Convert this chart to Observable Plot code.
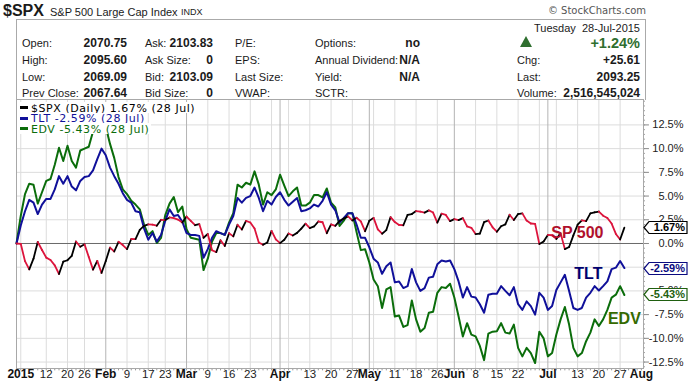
<!DOCTYPE html>
<html><head><meta charset="utf-8">
<script src="https://cdn.jsdelivr.net/npm/d3@7"></script>
<script src="https://cdn.jsdelivr.net/npm/@observablehq/plot@0.6"></script>
<style>
body{margin:0;background:#fff;}
#wrap{position:relative;width:700px;height:385px;overflow:hidden;font-family:"Liberation Sans",Arial,sans-serif;color:#1a1a1a;}
#wrap svg{position:absolute;left:0;top:0;}
.t{position:absolute;white-space:pre;line-height:1;}
.b{font-weight:bold;}
</style></head><body><div id="wrap"></div>
<script>
// ---- data: trading days from 31-Dec-2014 (index 0) to 28-Jul-2015 (index 143)
const spxClose = [2058.90,
 2058.20,2020.58,2002.61,2025.90,2062.14,2044.81,2028.26,2023.03,2011.27,1992.67,2019.42,2022.55,2032.12,2063.15,2051.82,2057.09,2029.55,2002.16,2021.25,1994.99,
 2020.85,2050.03,2041.51,2062.52,2055.47,2046.74,2068.59,2068.53,2088.48,2096.99,2100.34,2099.68,2097.45,2110.30,2109.66,2115.48,2113.86,2110.74,2104.50,
 2117.39,2107.78,2098.53,2101.04,2071.26,2079.43,2044.16,2040.24,2065.95,2053.40,2081.19,2074.28,2099.50,2089.27,2108.10,2104.42,2091.50,2061.05,2056.15,2061.02,2086.24,2067.89,
 2059.69,2066.96,2080.62,2076.33,2081.90,2091.18,2102.06,2092.43,2095.84,2106.63,2104.99,2081.18,2100.40,2097.29,2107.96,2112.93,2117.69,2108.92,2114.76,2106.85,2085.51,
 2108.29,2114.49,2089.46,2080.15,2088.00,2116.10,2105.33,2099.12,2098.48,2121.10,2122.73,2129.20,2127.83,2125.85,2130.82,2126.06,2104.20,2123.48,2120.79,2107.39,
 2111.73,2109.60,2114.07,2095.84,2092.83,2079.28,2080.15,2105.20,2108.86,2094.11,2084.43,2096.29,2100.44,2121.24,2109.99,2122.85,2124.20,2108.58,2102.31,2101.49,2057.64,2063.11,
 2077.42,2076.78,2068.76,2081.34,2046.68,2051.31,2076.62,2099.60,2108.95,2107.40,2124.29,2126.64,2128.28,2119.21,2114.15,2102.15,2079.65,2067.64,2093.25];

const tltPct = [0,
 1.9,3.4,4.6,4.3,3.1,4.1,4.7,4.7,5.7,7.1,6.3,7.1,6.0,5.6,6.6,7.0,7.1,7.7,8.9,10.0,
 9.3,8.0,7.1,6.3,5.3,4.6,4.3,3.4,3.3,1.6,0.4,1.1,0.2,0.9,2.4,3.6,2.9,3.0,2.3,
 1.1,0.9,0.9,0.8,-1.5,-0.6,0.6,1.3,1.1,0.9,2.0,2.9,4.8,4.3,4.8,5.0,5.9,4.8,3.4,4.5,4.1,4.9,
 5.4,4.6,4.0,4.4,4.8,3.4,3.5,3.7,4.1,3.9,4.5,5.4,4.1,3.5,2.2,2.7,3.2,3.2,2.0,0.6,0.6,
 -0.4,-1.6,-2.0,-3.2,-2.4,-2.0,-4.1,-4.0,-4.7,-4.5,-2.7,-4.1,-5.0,-4.7,-3.6,-3.5,-2.2,-1.8,-1.9,-1.8,
 -2.7,-4.0,-5.7,-4.6,-5.6,-5.7,-6.4,-7.3,-5.4,-5.3,-5.3,-4.5,-5.0,-5.45,-4.6,-6.4,-7.0,-6.1,-6.6,-7.5,-5.2,-5.7,
 -7.0,-6.6,-4.9,-4.1,-3.3,-5.0,-6.8,-7.0,-6.8,-5.7,-5.2,-4.5,-4.95,-4.5,-4.0,-2.7,-2.55,-1.85,-2.59];

const edvPct = [0,
 2.9,5.2,6.3,6.2,4.2,5.4,6.6,6.8,8.3,10.1,8.7,10.3,8.7,8.0,9.8,10.0,10.2,11.8,13.0,14.8,
 12.3,10.5,9.0,7.0,5.7,5.2,4.5,4.1,3.6,2.0,0.9,1.3,0.05,0.6,3.0,4.2,4.9,3.3,3.9,
 1.5,0.6,0.5,0.4,-2.8,-1.6,0.2,1.1,1.1,0.9,2.2,3.2,6.2,5.9,6.4,6.2,7.6,6.2,4.1,5.4,5.1,5.7,
 7.25,6.1,5.0,5.5,5.9,4.0,4.0,4.3,5.1,5.1,4.85,5.8,4.3,3.8,1.85,2.4,3.2,3.2,1.2,-0.7,-0.6,
 -2.0,-3.8,-4.5,-6.8,-4.85,-4.6,-7.7,-7.6,-8.8,-8.6,-6.0,-8.0,-9.3,-8.9,-7.3,-7.2,-5.2,-4.6,-4.7,-4.25,
 -5.7,-7.7,-9.8,-8.4,-9.6,-9.8,-10.8,-12.3,-9.5,-9.3,-9.25,-8.4,-9.4,-9.5,-8.55,-11.0,-11.9,-11.0,-11.55,-12.6,-9.3,-10.0,
 -11.9,-11.55,-9.6,-8.0,-6.7,-8.55,-11.0,-11.9,-11.55,-10.3,-9.4,-8.0,-8.7,-8.0,-7.0,-5.7,-5.4,-4.5,-5.43];

// x tick labels (trading-day index of each labelled date)
const xTickIdx    = [1,7,12,16,21,26,31,35,40,45,50,55,62,69,74,79,83,89,94,99,103,108,113,118,125,132,137,142,147];
const xTickLabels = ["2015","12","20","26","Feb","9","17","23","Mar","9","16","23","Apr","13","20","27","May","11","18","26","Jun","8","15","22","Jul","13","20","27","Aug"];
const xTickBold   = ["2015","Feb","Mar","Apr","May","Jun","Jul","Aug"];
const extraGridIdx = [60,64,84,123,127];     // week lines without labels
const monthIdx = [21,40,62,83,103,125];
const yTicks = [-12.5,-10,-7.5,-5,-2.5,0,2.5,5,7.5,10,12.5];

const seriesNames = ["$SPX (Daily) 1.67% (28 Jul)","TLT -2.59% (28 Jul)","EDV -5.43% (28 Jul)"];
const seriesColors = ["#000000","#10109a","#0b6d0b"];
const tagColors = ["#000000","#0a0a80","#1f5f0f"];

// ---- build
const N = spxClose.length;
const base = spxClose[0];
const spx = spxClose.map((c,i)=>({i, v:(c/base-1)*100}));
const segs = d3.range(1,N).map(i=>({i0:i-1,i1:i,v0:spx[i-1].v,v1:spx[i].v,
  col: spx[i].v >= spx[i-1].v ? "#000000" : "#dc143c"}));
const tlt = tltPct.map((v,i)=>({i,v}));
const edv = edvPct.map((v,i)=>({i,v}));
const xTicks = xTickIdx.map((i,k)=>({i,label:xTickLabels[k],bold:xTickBold.includes(xTickLabels[k])}));
const allDays = d3.range(0,148);
const minorY = d3.range(-13,15.01,0.5);
const xMax = 147.5, yMin=-13.18, yMax=15.18;

const plot = Plot.plot({
  width:700, height:385,
  marginLeft:16, marginRight:57, marginTop:99, marginBottom:17,
  x:{domain:[0,xMax], axis:null},
  y:{domain:[yMin,yMax], axis:null},
  style:{fontFamily:"'Liberation Sans',Arial,sans-serif", background:"white"},
  marks:[
    Plot.ruleY(yTicks.filter(d=>d!==0),{y:d=>d, stroke:"#dcdcdc"}),
    Plot.ruleX(xTickIdx.concat(extraGridIdx).filter(d=>!monthIdx.includes(d) && d<147),{x:d=>d, stroke:"#dcdcdc"}),
    Plot.ruleX(monthIdx,{x:d=>d, stroke:"#b4b4b4"}),
    Plot.ruleY([0],{y:d=>d, stroke:"#6a6a6a"}),
    // axis ticks
    Plot.ruleX(allDays,{x:d=>d, y1:yMin, y2:yMin-0.25, stroke:"#999"}),
    Plot.ruleY(minorY,{y:d=>d, x1:xMax, x2:xMax+0.45, stroke:"#999"}),
    Plot.ruleY(yTicks,{y:d=>d, x1:xMax, x2:xMax+1.4, stroke:"#888"}),
    Plot.frame({stroke:"#a8a8a8"}),
    Plot.line(edv,{x:"i", y:"v", stroke:seriesColors[2], strokeWidth:2, strokeLinejoin:"round"}),
    Plot.line(tlt,{x:"i", y:"v", stroke:seriesColors[1], strokeWidth:2, strokeLinejoin:"round"}),
    Plot.link(segs,{x1:"i0", y1:"v0", x2:"i1", y2:"v1", stroke:"col", strokeWidth:1.8, strokeLinecap:"round"}),
    // y labels
    Plot.text(yTicks,{y:d=>d, text:d=>d.toFixed(1)+"%", frameAnchor:"right", dx:40, textAnchor:"end", fontSize:11, fill:"#222"}),
    // x labels
    Plot.text(xTicks.filter(d=>d.bold),{x:"i", text:"label", frameAnchor:"bottom", dy:9, fontSize:12, fontWeight:"bold", fill:"#111"}),
    Plot.text(xTicks.filter(d=>!d.bold),{x:"i", text:"label", frameAnchor:"bottom", dy:9, fontSize:11.5, fill:"#222"}),
    // annotations next to series ends
    Plot.text([spx[N-1]],{x:"i", y:"v", text:()=>"SP 500", dx:-47, dy:5, fill:"#b0102c", fontSize:16, fontWeight:"bold"}),
    Plot.text([tlt[N-1]],{x:"i", y:"v", text:()=>"TLT", dx:-36, dy:6, fill:"#00006e", fontSize:16, fontWeight:"bold"}),
    Plot.text([edv[N-1]],{x:"i", y:"v", text:()=>"EDV", dx:0, dy:24, fill:"#356a00", fontSize:16, fontWeight:"bold"})
  ]
});
const wrap = document.getElementById("wrap");
wrap.appendChild(plot);

// value tags on the right axis, positioned with the plot's y scale
const ys = plot.scale("y");
const svg = d3.select(plot);
const tagVals = [spx[N-1].v, tltPct[N-1], edvPct[N-1]];
const tagText = ["1.67%","-2.59%","-5.43%"];
tagVals.forEach((v,k)=>{
  const cy = Math.round(ys.apply(v))+0.5;
  const g = svg.append("g");
  g.append("polygon").attr("points",`644,${cy} 649,${cy-6} 687,${cy-6} 687,${cy+6} 649,${cy+6}`)
   .attr("fill","white").attr("stroke",tagColors[k]).attr("stroke-width",1.2);
  g.append("text").attr("x",685).attr("y",cy).attr("dy","0.35em").attr("text-anchor","end")
   .attr("font-size",11).attr("font-weight","bold").attr("fill",tagColors[k])
   .attr("font-family","'Liberation Sans',Arial,sans-serif").text(tagText[k]);
});

// ---- header (HTML)
function put(txt,x,y,opts={}){
  const d=document.createElement("div");
  d.className="t"+(opts.bold?" b":"");
  d.textContent=txt;
  d.style.left=x+"px"; d.style.top=y+"px";
  d.style.fontSize=(opts.size||11)+"px";
  if(opts.color) d.style.color=opts.color;
  if(opts.font) d.style.fontFamily=opts.font;
  if(opts.ls) d.style.letterSpacing=opts.ls+"px";
  d.style.transform=`translate(${opts.right?"-100%":"0"},-50%)`;
  wrap.appendChild(d);
  return d;
}
const box=document.createElement("div");
box.style.cssText="position:absolute;left:16px;top:19px;width:628px;height:80px;border:1px solid #aaa;border-bottom:none;";
wrap.appendChild(box);

put("$SPX",3,11,{bold:true,size:16});
put("S&P 500 Large Cap Index",50,11.5,{size:11});
put("INDX",181,12,{size:9});
put("© StockCharts.com",646,11,{size:10,right:true,color:"#555",font:"'DejaVu Sans',sans-serif"});

const rows=[43,60,76.5,92.5];
const c1=["Open:","High:","Low:","Prev Close:"], v1=["2070.75","2095.60","2069.09","2067.64"];
const c2=["Ask:","Ask Size:","Bid:","Bid Size:"], v2=["2103.83","0","2103.09","0"];
const c3=["P/E:","EPS:","Last Size:","VWAP:"];
const c4=["Options:","Annual Dividend:","Yield:","SCTR:"], v4=["no","N/A","N/A",""];
const c5=["","Chg:","Last:","Volume:"], v5=["+1.24%","+25.61","2093.25","2,516,545,024"];
rows.forEach((y,k)=>{
  put(c1[k],22,y); put(v1[k],127,y,{bold:true,size:12,right:true});
  put(c2[k],145,y); put(v2[k],213,y,{bold:true,size:12,right:true});
  put(c3[k],235,y);
  put(c4[k],315,y); if(v4[k]) put(v4[k],420,y,{bold:true,size:12,right:true});
  if(c5[k]) put(c5[k],517,y);
  if(k===0) put(v5[k],640,y,{bold:true,size:14.5,right:true,color:"#2f6f2f"});
  else put(v5[k],640,y,{bold:true,size:12,right:true});
});
put("Tuesday  28-Jul-2015",640,28,{right:true});
const tri=document.createElementNS("http://www.w3.org/2000/svg","svg");
tri.setAttribute("width","14");tri.setAttribute("height","12");
tri.style.cssText="position:absolute;left:519px;top:36px;";
tri.innerHTML='<polygon points="7,0 13,11 1,11" fill="#2f6f2f"/>';
wrap.appendChild(tri);

// ---- legend (top-left inside plot)
const legY=[107.5,118,128.5];
seriesNames.forEach((s,k)=>{
  const bg=document.createElement("div");
  bg.style.cssText=`position:absolute;left:17px;top:${legY[k]-5.5}px;height:11px;background:white;`;
  wrap.appendChild(bg);
  const sw=document.createElement("div");
  sw.style.cssText=`position:absolute;left:20px;top:${legY[k]-1.5}px;width:8px;height:3px;background:${seriesColors[k]};`;
  wrap.appendChild(sw);
  const t=put(s,31,legY[k],{size:11,color:seriesColors[k],font:"'DejaVu Sans',sans-serif",ls:0.55});
  bg.style.width=(14+t.getBoundingClientRect().width+2)+"px";
});
</script></body></html>
